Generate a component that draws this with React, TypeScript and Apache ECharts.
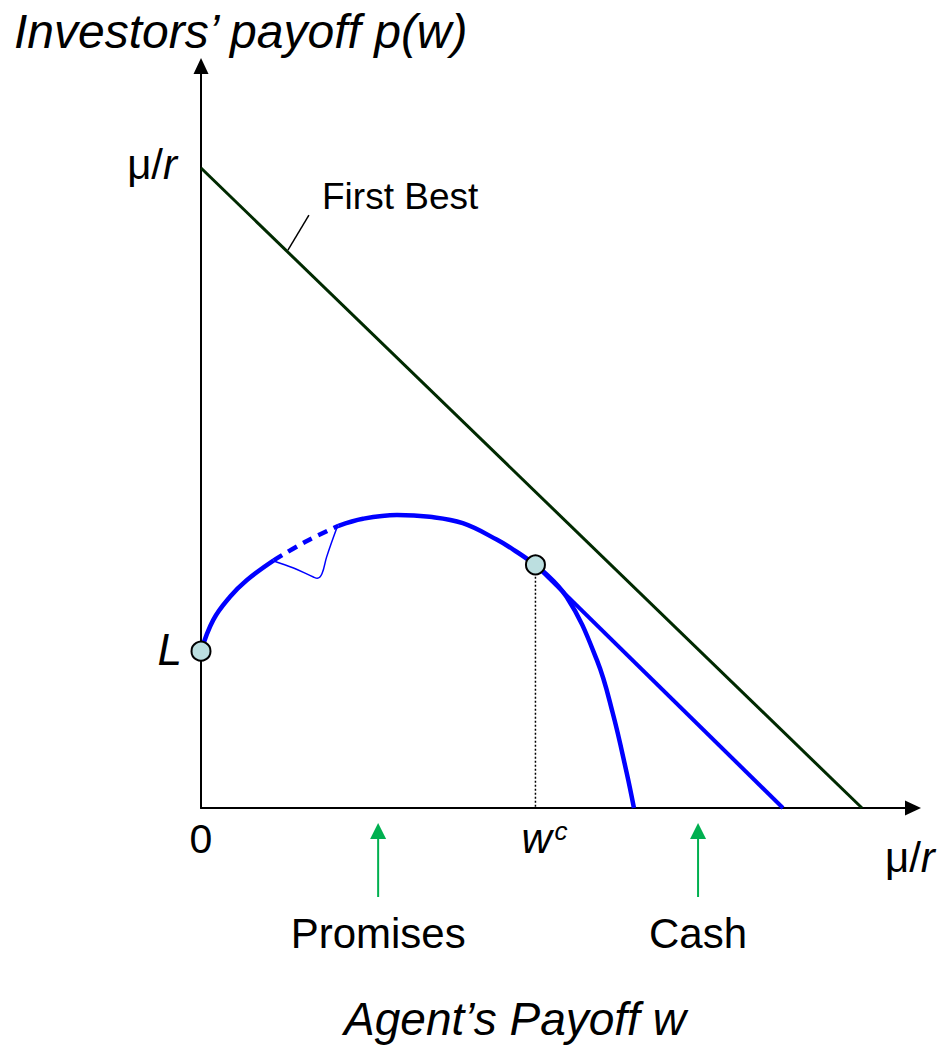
import React, { useEffect, useRef } from "react";
import * as echarts from "echarts";

// Units: mu/r = 100 on both axes
const X_MAX = 107.72;
const Y_MAX = 115.94;
const MU_R = 100;

const firstBest: number[][] = [[0, 100], [100, 0]];
const payoffLeft: number[][] = [[0, 24.5], [1.86, 29.4], [4.39, 33.0], [6.91, 35.6], [11.0, 38.7]];
const payoffDashed: number[][] = [[11.0, 38.7], [15.8, 41.6], [20.8, 44.1]];
const payoffRight: number[][] = [
  [20.8, 44.1], [24.5, 45.2], [29.65, 45.8], [34.6, 45.5], [39.6, 44.5],
  [44.8, 41.9], [47.8, 40.0], [50.6, 38.0],
];
const cashLine: number[][] = [[50.6, 38.0], [88.05, 0]];
const curvedBranch: number[][] = [[50.6, 38.0], [55.3, 33.0], [59.9, 23.1], [62.3, 14.8], [64.4, 5.5], [65.5, 0]];
const deviation: number[][] = [
  [11.0, 38.6], [14.0, 37.5], [17.0, 36.1], [17.6, 35.9], [18.3, 36.6], [19.0, 39.2], [20.6, 43.9],
];
const keyPoints: number[][] = [[0, 24.5], [50.6, 38.0]];
const wcDrop: number[][] = [[50.6, 38.0], [50.6, 0]];
const arrowXs: number[] = [26.8, 75.2];
const arrowLabels: string[] = ["Promises", "Cash"];

const FONT = "'Liberation Sans', Arial, sans-serif";
const BLUE = "#0000FF";
const GREEN_ARROW = "#00B050";

export default function App() {
  const ref = useRef<HTMLDivElement>(null);
  useEffect(() => {
    if (!ref.current) return;
    const chart = echarts.init(ref.current, undefined, { renderer: "svg" });
    const lineBase = {
      type: "line" as const,
      showSymbol: false,
      symbol: "none",
      silent: true,
    };
    const axisCommon = {
      type: "value" as const,
      min: 0,
      axisLine: { show: true, symbol: ["none", "triangle"], symbolSize: [15, 16], lineStyle: { color: "#000", width: 2 } },
      axisTick: { show: false }, axisLabel: { show: false }, splitLine: { show: false },
    };
    chart.setOption({
      animation: false,
      backgroundColor: "#ffffff",
      grid: { left: 201, top: 66, width: 712, height: 742 },
      xAxis: { ...axisCommon, max: X_MAX },
      yAxis: { ...axisCommon, max: Y_MAX },
      series: [
        { ...lineBase, name: "First Best", data: firstBest, lineStyle: { color: "#002a00", width: 3 }, z: 2 },
        { ...lineBase, name: "wc drop", data: wcDrop, lineStyle: { color: "#000", width: 1.5, type: [2, 2] }, z: 2 },
        { ...lineBase, name: "payoff left", data: payoffLeft, smooth: 0.4, lineStyle: { color: BLUE, width: 4.5 }, z: 3 },
        { ...lineBase, name: "payoff dashed", data: payoffDashed, smooth: 0.4, lineStyle: { color: BLUE, width: 4.5, type: [10, 7] }, z: 3 },
        { ...lineBase, name: "payoff right", data: payoffRight, smooth: 0.4, lineStyle: { color: BLUE, width: 4.5 }, z: 3 },
        { ...lineBase, name: "cash", data: cashLine, lineStyle: { color: BLUE, width: 4 }, z: 3 },
        { ...lineBase, name: "branch", data: curvedBranch, smooth: 0.4, lineStyle: { color: BLUE, width: 4.5 }, z: 3 },
        { ...lineBase, name: "deviation", data: deviation, smooth: 0.4, lineStyle: { color: BLUE, width: 1.5 }, z: 3 },
        {
          type: "scatter", name: "points", data: keyPoints, symbolSize: 19, silent: true,
          itemStyle: { color: "#BCDFE0", borderColor: "#000", borderWidth: 2, opacity: 1 }, z: 5,
        },
      ],
    });

    const px = (x: number, y: number) => chart.convertToPixel({ gridIndex: 0 }, [x, y]) as number[];
    const o = px(0, 0);
    const muY = px(0, MU_R);
    const muX = px(MU_R, 0);
    const lPt = px(keyPoints[0][0], keyPoints[0][1]);
    const wcPt = px(keyPoints[1][0], 0);
    const fb = px(13, 87);

    const muRich = {
      m: { font: `42px ${FONT}`, fill: "#000" },
      r: { font: `italic 42px ${FONT}`, fill: "#000" },
    };

    const graphics: any[] = [
      { type: "text", left: 14, top: 7, style: { text: "Investors’ payoff p(w)", font: `italic 48px ${FONT}`, fill: "#000" } },
      { type: "text", x: muY[0] - 24, y: muY[1] - 4, style: { text: "{m|μ/}{r|r}", rich: muRich, align: "right", verticalAlign: "middle" } },
      { type: "line", shape: { x1: fb[0] + 1, y1: fb[1] - 1, x2: fb[0] + 22, y2: fb[1] - 36 }, style: { stroke: "#000", lineWidth: 1.5 } },
      { type: "text", x: 322, y: 196, style: { text: "First Best", font: `37px ${FONT}`, fill: "#000", align: "left", verticalAlign: "middle" } },
      { type: "text", x: lPt[0] - 19, y: lPt[1] - 2, style: { text: "L", font: `italic 44px ${FONT}`, fill: "#000", align: "right", verticalAlign: "middle" } },
      { type: "text", x: o[0], y: o[1] + 31, style: { text: "0", font: `41px ${FONT}`, fill: "#000", align: "center", verticalAlign: "middle" } },
      { type: "text", x: wcPt[0] - 14, y: o[1] + 30, style: { text: "w", font: `italic 42px ${FONT}`, fill: "#000", align: "left", verticalAlign: "middle" } },
      { type: "text", x: wcPt[0] + 19, y: o[1] + 23, style: { text: "c", font: `italic 26px ${FONT}`, fill: "#000", align: "left", verticalAlign: "middle" } },
      { type: "text", x: muX[0] + 23, y: o[1] + 49, style: { text: "{m|μ/}{r|r}", rich: muRich, align: "left", verticalAlign: "middle" } },
      { type: "text", x: 515, y: 1019, style: { text: "Agent’s Payoff w", font: `italic 46px ${FONT}`, fill: "#000", align: "center", verticalAlign: "middle" } },
    ];
    arrowXs.forEach((ax, i) => {
      const p = px(ax, 0);
      graphics.push({ type: "line", shape: { x1: p[0], y1: o[1] + 28, x2: p[0], y2: o[1] + 89 }, style: { stroke: GREEN_ARROW, lineWidth: 2 } });
      graphics.push({ type: "polygon", shape: { points: [[p[0], o[1] + 15], [p[0] - 8, o[1] + 31], [p[0] + 8, o[1] + 31]] }, style: { fill: GREEN_ARROW } });
      graphics.push({ type: "text", x: p[0], y: o[1] + 125, style: { text: arrowLabels[i], font: `42px ${FONT}`, fill: "#000", align: "center", verticalAlign: "middle" } });
    });
    chart.setOption({ graphic: graphics });

    return () => chart.dispose();
  }, []);
  return <div ref={ref} style={{ position: "absolute", left: 0, top: 0, width: 950, height: 1048 }} />;
}
